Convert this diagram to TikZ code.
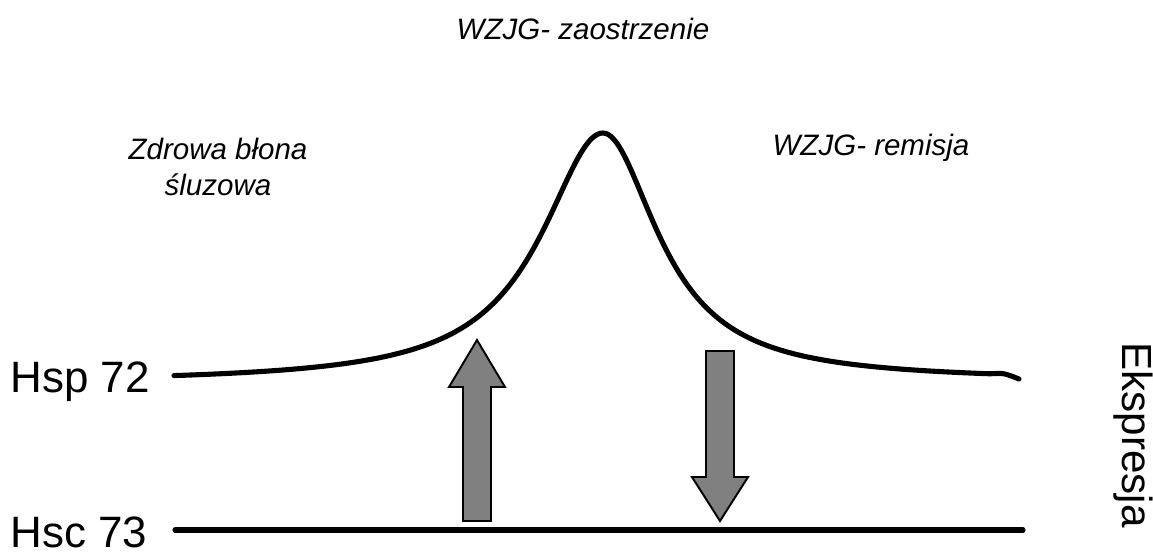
\documentclass[tikz,border=0pt]{standalone}
\usepackage{fontspec}
\setmainfont{Liberation Sans}
\usepackage{tikz}
\usetikzlibrary{arrows.meta, positioning, calc}
\definecolor{ArrowGray}{RGB}{128,128,128}

\begin{document}
\begin{tikzpicture}[x=0.02cm, y=-0.02cm,
    lbl/.style={font=\fontsize{25}{30}\selectfont, inner sep=0pt},
    phase/.style={font=\itshape\fontsize{16.8}{20}\selectfont, align=center, inner sep=0pt},
    lvl/.style={line width=2.9pt, line cap=round, line join=round},
    fatarr/.style={draw=black, fill=ArrowGray, line width=1.1pt, line join=miter}
  ]
  \useasboundingbox (0,0) rectangle (1153,555);
  % Phases
  \node[phase] (acute) at (583,29) {WZJG- zaostrzenie};
  \node[phase] (healthy) at (218,167) {Zdrowa błona\\ śluzowa};
  \node[phase] (remis) at (871,148) {WZJG- remisja};
  % Levels
  \node[lbl, anchor=base west] (hsp) at (10,392) {Hsp 72};
  \node[lbl, anchor=base west] (hsc) at (10,547) {Hsc 73};
  \node[font=\fontsize{24}{28}\selectfont, rotate=-90, inner sep=0pt] (expr) at (1133,435) {Ekspresja};
  % Hsp 72 curve
  \draw[lvl] plot[domain=174:603, samples=160] (\x, {383-250/(1+((\x-603)/75)^2)})
    -- plot[domain=603:990, samples=150] (\x, {381-248/(1+((\x-603)/67)^2)})
    .. controls (1004,373) .. (1019,379);
  % Hsc 73 line
  \coordinate (hscL) at (175,530);
  \coordinate (hscR) at (1023,530);
  \draw[lvl] (hscL) -- (hscR);
  % Arrows
  \draw[fatarr] (463,521) -- (463,387) -- (449,387) -- (477,340) -- (505,387) -- (491,387) -- (491,521) -- cycle;
  \draw[fatarr] (706,351) -- (734,351) -- (734,477) -- (748,477) -- (720,521) -- (692,477) -- (706,477) -- cycle;
\end{tikzpicture}
\end{document}
